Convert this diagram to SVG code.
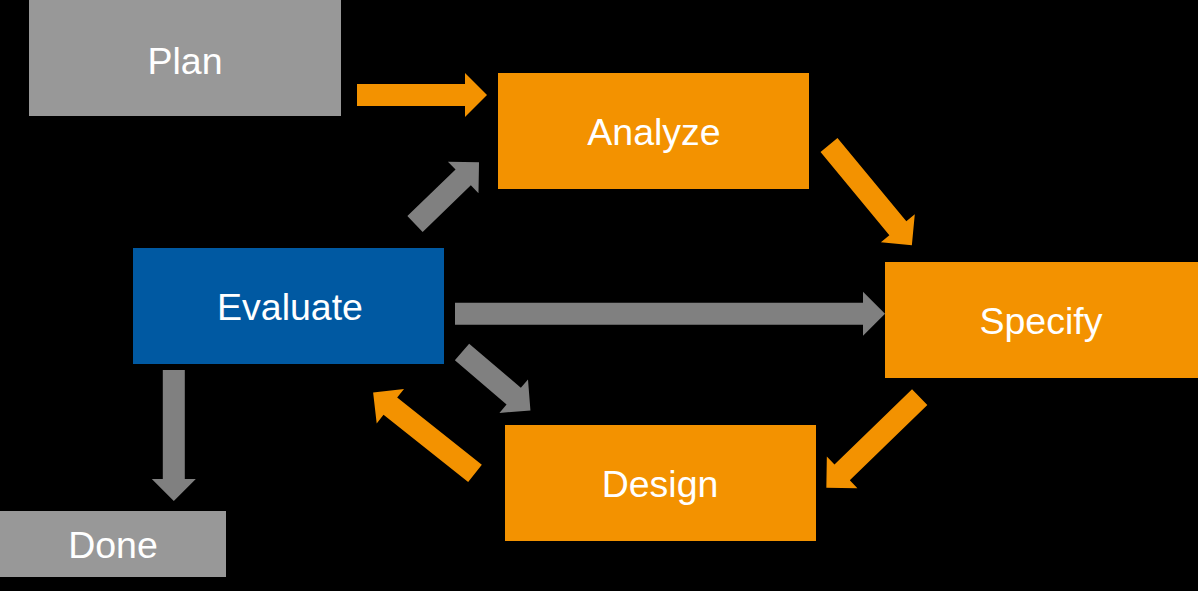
<svg xmlns="http://www.w3.org/2000/svg" width="1198" height="591" viewBox="0 0 1198 591">
<style>
.bg{fill:#000}
.gray{fill:#989898}
.orange{fill:#F39200}
.blue{fill:#0059A2}
.lbl{fill:#fff;font-family:"Liberation Sans",Arial,sans-serif;font-size:37.5px;text-anchor:middle}
.ag{fill:#808080}
.ao{fill:#F39200}
</style>
<rect class="bg" x="0" y="0" width="1198" height="591"/>
<g id="connectors">
<path class="ao" transform="translate(357,95)" d="M0,-11 H108 V-22 L130,0 L108,22 V11 H0 Z"/>
<path class="ag" transform="translate(415,224) rotate(-44)" d="M0,-11 H67 V-22 L89,0 L67,22 V11 H0 Z"/>
<path class="ao" transform="translate(829,145) rotate(50.4)" d="M0,-11 H108 V-22 L130,0 L108,22 V11 H0 Z"/>
<path class="ag" transform="translate(455,313.7)" d="M0,-11 H408 V-22 L430,0 L408,22 V11 H0 Z"/>
<path class="ag" transform="translate(462,352) rotate(40.5)" d="M0,-11 H68 V-22 L90,0 L68,22 V11 H0 Z"/>
<path class="ao" transform="translate(475,473.3) rotate(-141.6)" d="M0,-11 H108 V-22 L130,0 L108,22 V11 H0 Z"/>
<path class="ao" transform="translate(919.7,397.2) rotate(135.9)" d="M0,-11 H108 V-22 L130,0 L108,22 V11 H0 Z"/>
<path class="ag" transform="translate(173.8,370) rotate(90)" d="M0,-11 H109 V-22 L131,0 L109,22 V11 H0 Z"/>
</g>
<g id="plan">
<rect class="gray" x="29" y="0" width="312" height="116"/>
<text class="lbl" x="185" y="74">Plan</text>
</g>
<g id="analyze">
<rect class="orange" x="498" y="73" width="311" height="116"/>
<text class="lbl" x="654" y="145">Analyze</text>
</g>
<g id="evaluate">
<rect class="blue" x="133" y="248" width="311" height="116"/>
<text class="lbl" x="290" y="320">Evaluate</text>
</g>
<g id="specify">
<rect class="orange" x="885" y="262" width="313" height="116"/>
<text class="lbl" x="1041" y="334">Specify</text>
</g>
<g id="design">
<rect class="orange" x="505" y="425" width="311" height="116"/>
<text class="lbl" x="660" y="497">Design</text>
</g>
<g id="done">
<rect class="gray" x="0" y="511" width="226" height="66"/>
<text class="lbl" x="113" y="558">Done</text>
</g>
</svg>
